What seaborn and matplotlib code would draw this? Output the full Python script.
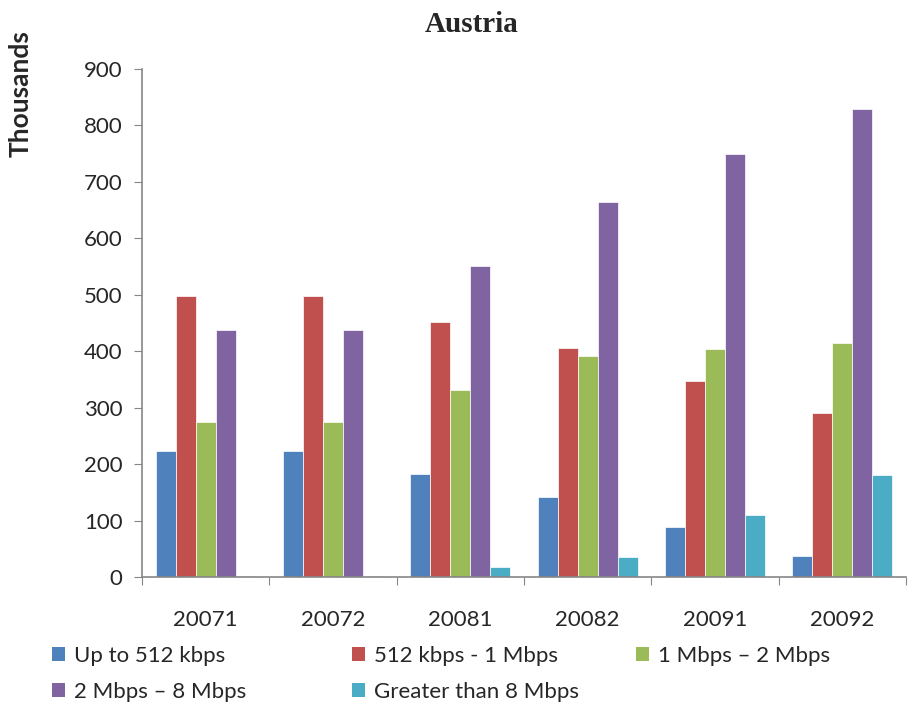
import pandas as pd
import matplotlib
matplotlib.use('Agg')
import matplotlib.pyplot as plt
import seaborn as sns
from matplotlib.patches import Patch

periods = ['20071', '20072', '20081', '20082', '20091', '20092']
series = ['Up to 512 kbps', '512 kbps - 1 Mbps', '1 Mbps – 2 Mbps',
          '2 Mbps – 8 Mbps', 'Greater than 8 Mbps']
up_to_512 = [223, 223, 182, 141, 89, 37]
k512_to_1m = [497, 497, 452, 406, 347, 290]
m1_to_2 = [274, 274, 332, 391, 404, 415]
m2_to_8 = [437, 437, 551, 664, 749, 829]
over_8 = [2, 2, 18, 35, 110, 181]
colors = ['#4F81BD', '#C0504D', '#9BBB59', '#8064A2', '#4BACC6']

rows = []
for name, vals in zip(series, [up_to_512, k512_to_1m, m1_to_2, m2_to_8, over_8]):
    for p, v in zip(periods, vals):
        rows.append({'Period': p, 'Series': name, 'Value': v})
df = pd.DataFrame(rows)

sns.set_style('white')
plt.rcParams['font.family'] = ['Lato', 'DejaVu Sans']

fig = plt.figure(figsize=(9.14, 7.08), dpi=100)
ax = fig.add_axes([142 / 914, 131 / 708, 764 / 914, 508 / 708])

sns.barplot(data=df, x='Period', y='Value', hue='Series', palette=colors,
            saturation=1, width=0.785, gap=0, edgecolor='white', linewidth=0.5,
            legend=False, ax=ax)

ax.set_xlim(-0.5, 5.5)
ax.set_ylim(0, 900)
ax.set_yticks(range(0, 901, 100))
ax.set_xlabel('')
ax.set_ylabel('Thousands', fontsize=19, fontweight='bold')
ax.yaxis.set_label_coords(-0.1435, 0.951)
fig.text(472 / 914, 1 - 25 / 708, 'Austria', fontsize=21, fontweight='bold',
         family='Liberation Serif', ha='center', va='center')

# category ticks sit on the boundaries, labels in the middle
ax.set_xticks([i - 0.5 for i in range(7)])
ax.set_xticklabels([])
ax.set_xticks(range(6), minor=True)
ax.set_xticklabels(periods, minor=True, fontsize=16)
ax.tick_params(axis='x', which='major', direction='out', length=6, color='#868686', bottom=True)
ax.tick_params(axis='x', which='minor', length=0, pad=24)
ax.tick_params(axis='y', direction='out', length=6, color='#868686', left=True, labelsize=16, pad=8)

for s in ['top', 'right']:
    ax.spines[s].set_visible(False)
for s in ['left', 'bottom']:
    ax.spines[s].set_color('#868686')
    ax.spines[s].set_linewidth(1.2)

# legend: two rows, three columns at fixed x positions
handles = [Patch(facecolor=c, edgecolor='none') for c in colors]
columns = [([0, 3], 52), ([1, 4], 352), ([2], 636)]
for idx, x in columns:
    fig.legend([handles[i] for i in idx], [series[i] for i in idx],
               loc='upper left', bbox_to_anchor=(x / 914, 1 - 646 / 708),
               frameon=False, fontsize=16, handlelength=0.6, handleheight=0.6,
               handletextpad=0.4, labelspacing=0.7, borderaxespad=0, borderpad=0)

fig.savefig('out.png', dpi=100)
